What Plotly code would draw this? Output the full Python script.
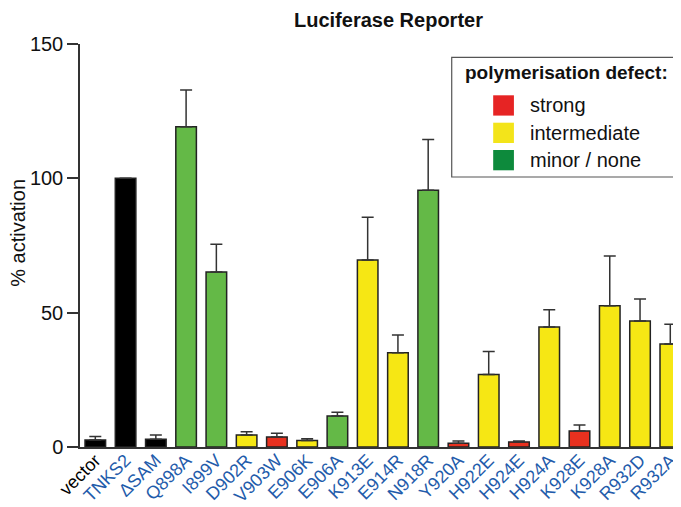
import plotly.graph_objects as go

# ---- data ----
categories = ["vector", "TNKS2", "ΔSAM", "Q898A", "I899V", "D902R", "V903W", "E906K",
              "E906A", "K913E", "E914R", "N918R", "Y920A", "H922E", "H924E", "H924A",
              "K928E", "K928A", "R932D", "R932A"]
activation = [2.6, 100, 2.9, 119.2, 65.1, 4.5, 3.7, 2.4, 11.5, 69.6, 35.1, 95.6,
              1.4, 27.0, 1.9, 44.7, 6.0, 52.6, 46.9, 38.3]
error_up = [1.3, None, 1.6, 13.7, 10.4, 1.2, 1.4, 0.7, 1.4, 15.9, 6.6, 18.9,
            0.8, 8.5, 0.3, 6.4, 2.2, 18.5, 8.2, 7.4]
defect = ["control", "control", "control", "minor", "minor", "intermediate", "strong",
          "intermediate", "minor", "intermediate", "intermediate", "minor", "strong",
          "intermediate", "strong", "intermediate", "strong", "intermediate",
          "intermediate", "intermediate"]
legend_labels = ["strong", "intermediate", "minor / none"]
legend_keys = ["strong", "intermediate", "minor"]
y_ticks = [0, 50, 100, 150]

# ---- styles ----
bar_colors = {"control": "#000000", "strong": "#e8311f", "intermediate": "#f6e714",
              "minor": "#64b947"}
legend_colors = {"strong": "#e62424", "intermediate": "#f3e41a", "minor": "#0d8a3c"}
label_blue = "#1f5cab"
FONT = "Liberation Sans, Arial, Helvetica, sans-serif"
FS = 20

ticktext = []
for c in categories:
    col = "#000000" if c == "vector" else label_blue
    ticktext.append(f'<span style="color:{col}">{c}</span>')

fig = go.Figure()
fig.add_trace(go.Bar(
    x=list(range(len(categories))),
    y=activation,
    width=0.68,
    marker=dict(color=[bar_colors[d] for d in defect],
                line=dict(color="#222222", width=1.5)),
    error_y=dict(type="data", array=error_up, arrayminus=[0] * len(categories),
                 symmetric=False, color="#333333", thickness=1.5, width=6),
    showlegend=False,
))

# the page body adds an 8px margin, so the figure is 8px smaller than the window
fig.update_layout(
    width=673, height=499,
    margin=dict(l=72, r=0, t=36, b=60, autoexpand=False),
    paper_bgcolor="white", plot_bgcolor="white",
    font=dict(family=FONT, size=FS, color="#111111"),
    showlegend=False,
)
fig.update_xaxes(
    range=[-0.506, 19.354], automargin=False,
    tickmode="array", tickvals=list(range(len(categories))), ticktext=ticktext,
    tickangle=-45, ticks="", showgrid=False, zeroline=False,
    showline=True, linecolor="#333333", linewidth=1.5,
    ticklabelstandoff=-6,
    tickfont=dict(family=FONT, size=18),
)
fig.update_yaxes(
    range=[0, 150], tickmode="array", tickvals=y_ticks, automargin=False,
    ticks="outside", ticklen=11, tickwidth=1.5, tickcolor="#333333",
    showgrid=False, zeroline=False,
    showline=True, linecolor="#333333", linewidth=1.5,
    tickfont=dict(family=FONT, size=FS, color="#111111"),
)

# title
fig.add_annotation(text="<b>Luciferase Reporter</b>", xref="paper", yref="paper",
                   x=0.5125, y=1.0596, xanchor="center", yanchor="middle",
                   showarrow=False, font=dict(family=FONT, size=FS, color="#111111"))
# y-axis title
fig.add_annotation(text="% activation", xref="paper", yref="paper",
                   x=-0.1035, y=0.531, xanchor="center", yanchor="middle",
                   textangle=-90, showarrow=False,
                   font=dict(family=FONT, size=FS, color="#111111"))

# legend box (manual)
fig.add_shape(type="rect", xref="paper", yref="paper", x0=0.6185, x1=1.02,
              y0=0.670, y1=0.967, line=dict(color="#555555", width=1.2),
              fillcolor="white", layer="above")
fig.add_annotation(text="<b>polymerisation defect:</b>", xref="paper", yref="paper",
                   x=0.6380, y=0.9305, xanchor="left", yanchor="middle",
                   showarrow=False, font=dict(family=FONT, size=19, color="#111111"))
sw_top = [95.3, 122.7, 150.0]
for i, (lab, key) in enumerate(zip(legend_labels, legend_keys)):
    top = sw_top[i]
    y1 = (447 - top) / 403
    y0 = (447 - top - 20.3) / 403
    fig.add_shape(type="rect", xref="paper", yref="paper", x0=0.6875, x1=0.722,
                  y0=y0, y1=y1, line=dict(width=0),
                  fillcolor=legend_colors[key], layer="above")
    fig.add_annotation(text=lab, xref="paper", yref="paper",
                       x=0.7448, y=(y0 + y1) / 2, xanchor="left", yanchor="middle",
                       showarrow=False, font=dict(family=FONT, size=FS, color="#111111"))

fig.write_html("out.html")
